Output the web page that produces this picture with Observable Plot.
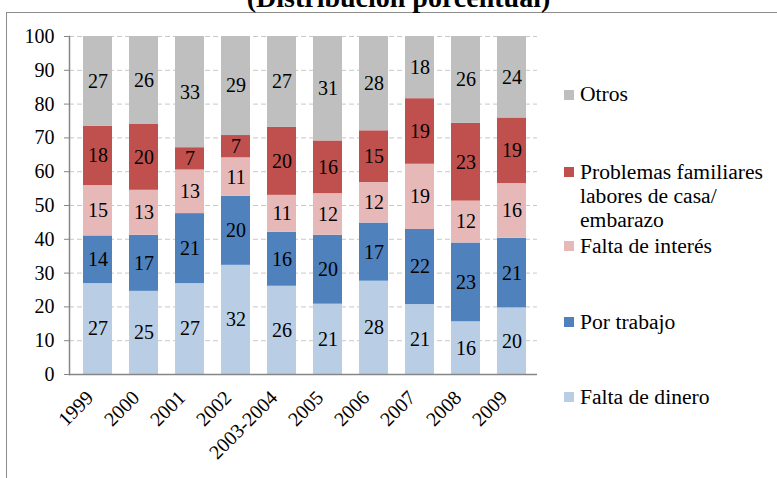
<!DOCTYPE html>
<html>
<head>
<meta charset="utf-8">
<script src="https://cdn.jsdelivr.net/npm/d3@7"></script>
<script src="https://cdn.jsdelivr.net/npm/@observablehq/plot@0.6"></script>
<style>
  html, body { margin: 0; padding: 0; background: #fff; }
  #wrap { position: relative; width: 777px; height: 478px; overflow: hidden; background: #fff; font-family: "Liberation Serif", "Times New Roman", serif; }
  #border { position: absolute; left: 6px; top: 12px; width: 900px; height: 600px; border-top: 1.5px solid #8c8c8c; border-left: 1.5px solid #8c8c8c; }
  #title { position: absolute; left: 0; width: 797px; top: -16px; text-align: center; font-weight: bold; font-size: 28px; line-height: 28px; color: #000; white-space: nowrap; }
  #chart { position: absolute; left: 0; top: 0; }
  .lg { position: absolute; left: 580px; font-size: 21.6px; line-height: 24px; color: #000; white-space: nowrap; }
  .sw { position: absolute; left: 564px; width: 10px; height: 10px; }
</style>
</head>
<body>
<div id="wrap">
  <div id="border"></div>
  <div id="title">(Distribución porcentual)</div>
  <div id="chart"></div>
</div>
<script>
const years = ["1999", "2000", "2001", "2002", "2003-2004", "2005", "2006", "2007", "2008", "2009"];
const faltaDinero        = [26.9, 24.6, 26.9, 32.3, 26.1, 20.8, 27.6, 20.7, 15.6, 19.7];
const porTrabajo         = [14.1, 16.6, 20.7, 20.4, 16.0, 20.4, 17.2, 22.2, 23.3, 20.6];
const faltaInteres       = [14.9, 13.3, 12.9, 11.4, 10.9, 12.3, 12.0, 19.3, 12.4, 16.2];
const problemasFamiliares= [17.5, 19.6,  6.6,  6.6, 20.1, 15.6, 15.3, 19.4, 23.0, 19.4];
const otros              = [26.6, 25.9, 32.9, 29.3, 26.9, 30.9, 27.9, 18.4, 25.7, 24.1];

const categories = ["Falta de dinero", "Por trabajo", "Falta de interés", "Problemas familiares labores de casa/ embarazo", "Otros"];
const colors = ["#b9cde5", "#4f81bd", "#e6b9b8", "#c0504d", "#bfbfbf"];
const yTicks = [0, 10, 20, 30, 40, 50, 60, 70, 80, 90, 100];

const series = [faltaDinero, porTrabajo, faltaInteres, problemasFamiliares, otros];
const rows = years.flatMap((yr, i) => series.map((arr, j) => ({year: yr, cat: categories[j], value: arr[i]})));

const FONT = "'Liberation Serif', 'Times New Roman', serif";

const chart = Plot.plot({
  width: 777,
  height: 478,
  marginLeft: 69,
  marginRight: 240,
  marginTop: 36,
  marginBottom: 104,
  style: {fontFamily: FONT, fontSize: "20px", color: "#000", background: "transparent", overflow: "visible"},
  x: {domain: years, paddingInner: 0.363, paddingOuter: 0.257, align: 0.55, label: null},
  y: {domain: [0, 100], label: null},
  color: {domain: categories, range: colors},
  marks: [
    Plot.gridY(yTicks.slice(1), {stroke: "#c8c8c8", strokeOpacity: 1, strokeDasharray: "5,3", strokeWidth: 1}),
    Plot.barY(rows, {x: "year", y: "value", fill: "cat", z: "cat", order: categories}),
    Plot.text(rows, Plot.stackY({x: "year", y: "value", z: "cat", order: categories, text: d => String(Math.round(d.value)), fontSize: 20, fontFamily: FONT, fill: "#000"})),
    Plot.ruleY([0], {stroke: "#868686", strokeWidth: 1.5}),
    Plot.frame({anchor: "left", stroke: "#868686", strokeWidth: 1.5}),
    Plot.axisY(yTicks, {tickSize: 5, tickPadding: 10, stroke: "#868686", fill: "#000", fontSize: 20, fontFamily: FONT, label: null}),
    Plot.axisX({tickRotate: -45, tickSize: 0, tickPadding: 20, dx: -8, fill: "#000", fontSize: 20, fontFamily: FONT, label: null})
  ]
});
document.getElementById("chart").appendChild(chart);

// legend (HTML text)
const legendOrder = ["Otros", "Problemas familiares labores de casa/ embarazo", "Falta de interés", "Por trabajo", "Falta de dinero"];
const legendLines = {
  "Otros": ["Otros"],
  "Problemas familiares labores de casa/ embarazo": ["Problemas familiares", "labores de casa/", "embarazo"],
  "Falta de interés": ["Falta de interés"],
  "Por trabajo": ["Por trabajo"],
  "Falta de dinero": ["Falta de dinero"]
};
const baselines = [101.7, 179, 253.3, 329, 404];
const wrap = document.getElementById("wrap");
legendOrder.forEach((c, k) => {
  const sw = document.createElement("div");
  sw.className = "sw";
  sw.style.top = (baselines[k] - 12) + "px";
  sw.style.background = colors[categories.indexOf(c)];
  wrap.appendChild(sw);
  const t = document.createElement("div");
  t.className = "lg";
  t.style.top = (baselines[k] - 19.5) + "px";
  t.innerHTML = legendLines[c].join("<br>");
  wrap.appendChild(t);
});
</script>
</body>
</html>
